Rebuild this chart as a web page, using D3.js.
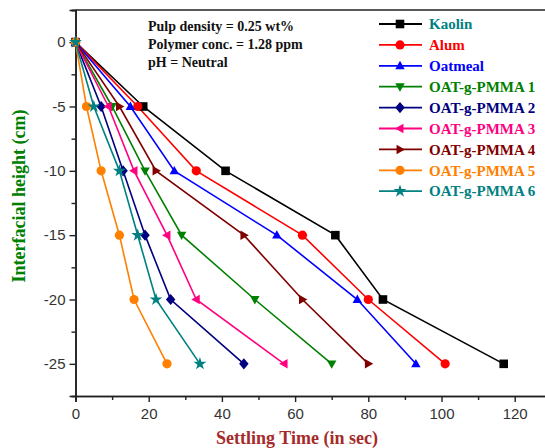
<!DOCTYPE html>
<html>
<head>
<meta charset="utf-8">
<script src="https://cdn.jsdelivr.net/npm/d3@7"></script>
<style>
  html, body { margin: 0; padding: 0; background: #fff; }
  svg { display: block; }
</style>
</head>
<body>
<div id="chart"></div>
<script>
// Interfacial height levels (cm) at which settling time was recorded
const heights = [0, -5, -10, -15, -20, -25];

// Settling time (s) to reach each height, per flocculant
const seriesNames = ["Kaolin", "Alum", "Oatmeal", "OAT-g-PMMA 1", "OAT-g-PMMA 2",
                     "OAT-g-PMMA 3", "OAT-g-PMMA 4", "OAT-g-PMMA 5", "OAT-g-PMMA 6"];
const kaolin = [0, 18.5, 41, 71, 84, 117];
const alum   = [0, 17, 33, 62, 80, 101];
const oatmeal = [0, 15, 27, 55, 77, 93];
const pmma1 = [0, 10, 19, 29, 49, 70];
const pmma2 = [0, 7, 13, 19, 26, 46];
const pmma3 = [0, 9, 16, 25, 33, 57];
const pmma4 = [0, 12, 22, 46, 62, 80];
const pmma5 = [0, 3, 7, 12, 16, 25];
const pmma6 = [0, 5, 12, 17, 22, 34];
const seriesValues = [kaolin, alum, oatmeal, pmma1, pmma2, pmma3, pmma4, pmma5, pmma6];

const xTicks = [0, 20, 40, 60, 80, 100, 120];
const yTicks = [0, -5, -10, -15, -20, -25];
const notes = ["Pulp density = 0.25 wt%", "Polymer conc. = 1.28 ppm", "pH = Neutral"];

const lineColors = ["#000000", "#ff0000", "#0000ff", "#008000", "#000080",
                    "#ff0080", "#800000", "#ff8000", "#008080"];
const labelColors = ["#008080", "#ff0000", "#0000ff", "#008000", "#000080",
                     "#ff0080", "#800000", "#ff8000", "#008080"];

// Marker shapes: square, circle, up-triangle, down-triangle, diamond,
// left-triangle, right-triangle, circle, star
function markerPath(kind, r) {
  switch (kind) {
    case "square": return `M${-r},${-r}H${r}V${r}H${-r}Z`;
    case "circle": return d3.symbol(d3.symbolCircle, Math.PI * r * r * 1.15)();
    case "up": return `M0,${-r * 1.15}L${r * 1.1},${r * 0.8}L${-r * 1.1},${r * 0.8}Z`;
    case "down": return `M0,${r * 1.15}L${r * 1.1},${-r * 0.8}L${-r * 1.1},${-r * 0.8}Z`;
    case "diamond": return `M0,${-r * 1.3}L${r * 1.1},0L0,${r * 1.3}L${-r * 1.1},0Z`;
    case "left": return `M${-r * 1.15},0L${r * 0.8},${-r * 1.1}L${r * 0.8},${r * 1.1}Z`;
    case "right": return `M${r * 1.15},0L${-r * 0.8},${-r * 1.1}L${-r * 0.8},${r * 1.1}Z`;
    case "star": return d3.symbol(d3.symbolStar, r * r * 2.8)();
  }
}
const markers = ["square", "circle", "up", "down", "diamond", "left", "right", "circle", "star"];

const W = 545, H = 448;
const svg = d3.select("#chart").append("svg").attr("width", W).attr("height", H);

const x = d3.scaleLinear().domain([0, 130]).range([75.5, 551.3]);
const y = d3.scaleLinear().domain([-27.5, 2.5]).range([396, 10]);

const serif = "'Liberation Serif', 'Times New Roman', serif";
const sans = "'Liberation Sans', Arial, sans-serif";
const plain = d => String(d);

// Axes
const xAxis = svg.append("g").attr("transform", `translate(0,${y(-27.5)})`)
  .call(d3.axisBottom(x).tickValues(xTicks).tickSize(6).tickPadding(6).tickFormat(plain));
const xMinor = svg.append("g").attr("transform", `translate(0,${y(-27.5)})`)
  .call(d3.axisBottom(x).tickValues(d3.range(10, 131, 20)).tickSize(4).tickFormat(""));
const yAxis = svg.append("g").attr("transform", `translate(${x(0)},0)`)
  .call(d3.axisLeft(y).tickValues(yTicks).tickSize(6).tickPadding(4).tickFormat(plain));
const yMinor = svg.append("g").attr("transform", `translate(${x(0)},0)`)
  .call(d3.axisLeft(y).tickValues(d3.range(-27.5, 2.6, 5).concat([2.5])).tickSize(4).tickFormat(""));

[xAxis, xMinor, yAxis, yMinor].forEach(g => {
  g.select(".domain").attr("stroke", "#222").attr("stroke-width", 1.6);
  g.selectAll(".tick line").attr("stroke", "#222").attr("stroke-width", 1.4);
  g.selectAll(".tick text").attr("fill", "#333").style("font-family", sans).style("font-size", "15px");
});

// Top frame line
svg.append("line")
  .attr("x1", x(0)).attr("x2", W).attr("y1", y(2.5)).attr("y2", y(2.5))
  .attr("stroke", "#222").attr("stroke-width", 1.6);

// Series lines and markers
const line = d3.line().x(d => x(d[0])).y(d => y(d[1]));
seriesValues.forEach((vals, i) => {
  const pts = vals.map((v, j) => [v, heights[j]]);
  svg.append("path").datum(pts).attr("d", line)
    .attr("fill", "none").attr("stroke", lineColors[i]).attr("stroke-width", 1.6);
});
seriesValues.forEach((vals, i) => {
  vals.forEach((v, j) => {
    svg.append("path")
      .attr("d", markerPath(markers[i], 4.3))
      .attr("transform", `translate(${x(v)},${y(heights[j])})`)
      .attr("fill", lineColors[i]);
  });
});

// Conditions note
notes.forEach((t, i) => {
  svg.append("text").attr("x", 148).attr("y", 31 + i * 18.2)
    .attr("fill", "#111").style("font-family", serif).style("font-weight", "bold")
    .style("font-size", "14px").text(t);
});

// Legend
seriesNames.forEach((name, i) => {
  const cy = 24 + i * 20.9;
  svg.append("line").attr("x1", 379).attr("x2", 422).attr("y1", cy).attr("y2", cy)
    .attr("stroke", lineColors[i]).attr("stroke-width", 1.8);
  svg.append("path").attr("d", markerPath(markers[i], 4.3))
    .attr("transform", `translate(400,${cy})`).attr("fill", lineColors[i]);
  svg.append("text").attr("x", 429).attr("y", cy).attr("dy", "0.35em")
    .attr("fill", labelColors[i]).style("font-family", serif).style("font-weight", "bold")
    .style("font-size", "15px").text(name);
});

// Axis titles
svg.append("text").attr("x", 297).attr("y", 444).attr("text-anchor", "middle")
  .attr("fill", "#a52a2a").style("font-family", serif).style("font-weight", "bold")
  .style("font-size", "18px").text("Settling Time (in sec)");
svg.append("text").attr("transform", "translate(25,196) rotate(-90)").attr("text-anchor", "middle")
  .attr("fill", "#008000").style("font-family", serif).style("font-weight", "bold")
  .style("font-size", "18px").text("Interfacial height (cm)");
</script>
</body>
</html>
